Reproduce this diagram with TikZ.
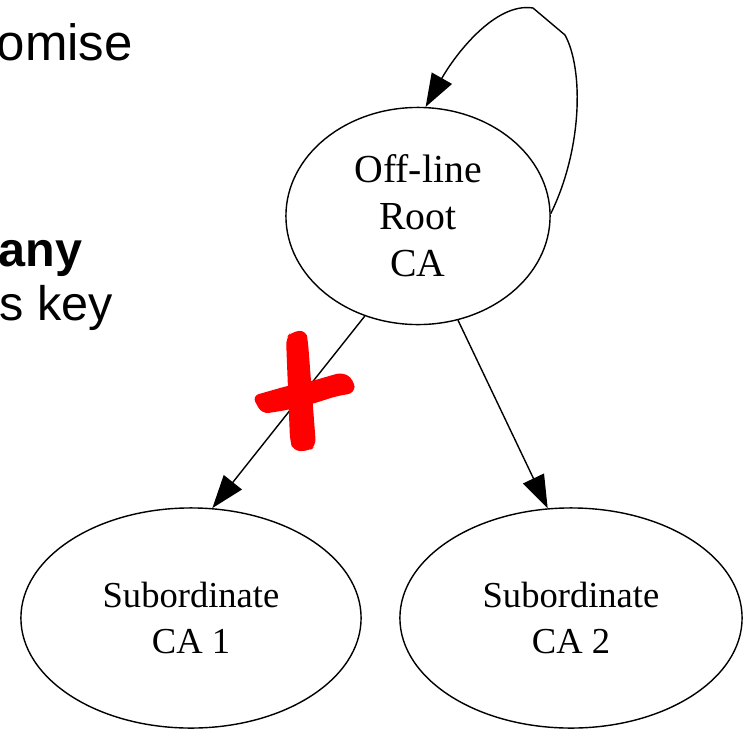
\documentclass[tikz,border=0pt]{standalone}
\usepackage{fontspec}
\setmainfont[Ligatures=NoCommon]{Liberation Serif}
\newfontfamily\slidefont{Liberation Sans}
\usepackage{tikz}
\usetikzlibrary{positioning,arrows.meta,shapes.geometric,calc}
\newcommand{\cafont}{\fontsize{10.4}{12.9}\selectfont}
\newcommand{\rootfont}{\fontsize{11.3}{13.4}\selectfont}

\begin{document}
\begin{tikzpicture}[x=0.01cm,y=-0.01cm,
    ca/.style={draw,ellipse,inner sep=0pt,align=center,font=\cafont},
    slide/.style={anchor=base west,inner sep=0pt,font=\slidefont\fontsize{13.8}{16}\selectfont},
    tip/.style={-{Triangle[length=0.33cm,width=0.23cm]}}]
    \useasboundingbox (0,0) rectangle (745,730);

    % Draw the cut-off slide text
    \node[slide,font=\slidefont\fontsize{14.5}{17}\selectfont] (t1) at (-4,60) {omise};
    \node[slide] (t2) at (-2,266) {\bfseries any};
    \node[slide] (t3) at (-1,320) {s key};

    % Draw the CA nodes
    \node[ca,font=\rootfont,minimum width=2.64cm,minimum height=2.17cm] (root) at (418,216) {Off-line\\Root\\CA};
    \node[ca,minimum width=3.40cm,minimum height=2.20cm] (sub1) at (191,618) {Subordinate\\CA 1};
    \node[ca,minimum width=3.42cm,minimum height=2.20cm] (sub2) at (571,618) {Subordinate\\CA 2};

    % Draw the edges
    \draw[tip] (root.242) -- (sub1.79);
    \draw[tip] (root.291) -- (sub2.102);
    \coordinate (loopa) at (565,35);
    \coordinate (loopb) at (533,8);
    \draw[tip] (root.1) .. controls (582,150) and (584,70) .. (loopa)
        -- (loopb) .. controls (495,2) and (455,55) .. (root.86);

    % Draw the red cross
    \fill[red,rounded corners=2] (286,338) -- (291,332) -- (306,330) -- (308,342)
        -- (316,446) -- (309,451) -- (293,451) -- (290,440) -- cycle;
    \fill[red,rounded corners=2] (252,396) -- (287,386) -- (312,381) -- (343,372)
        -- (354,380) -- (355,393) -- (337,396) -- (312,404) -- (287,410)
        -- (262,414) -- cycle;
\end{tikzpicture}
\end{document}
